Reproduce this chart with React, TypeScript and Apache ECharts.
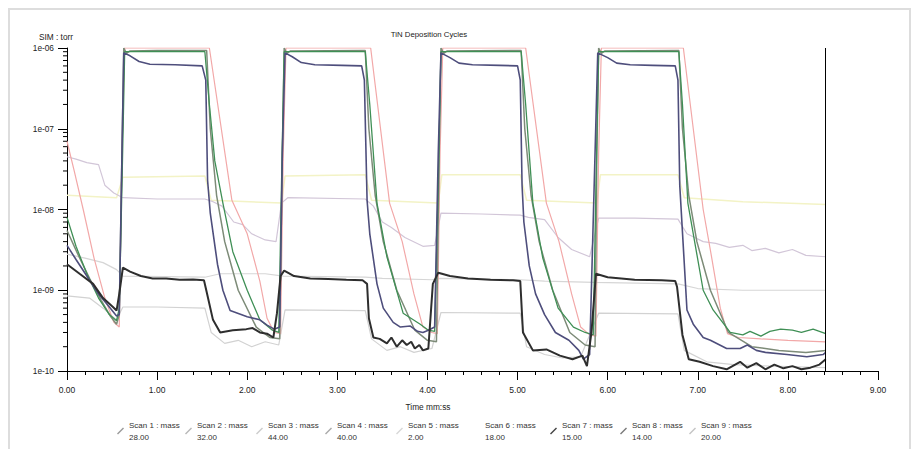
import React, { useEffect, useRef } from "react";
import * as echarts from "echarts";

const FONT = "'Liberation Sans', Arial, sans-serif";

// Legend entries
const scanLabels = ["Scan 1", "Scan 2", "Scan 3", "Scan 4", "Scan 5", "Scan 6", "Scan 7", "Scan 8", "Scan 9"];
const scanMasses = ["28.00", "32.00", "44.00", "40.00", "2.00", "18.00", "15.00", "14.00", "20.00"];

// X axis ticks (minutes)
const xTickMin = 0;
const xTickMax = 9;
const xTickStep = 1;
// Y axis decades
const yMin = 1e-10;
const yMax = 1e-6;
const yMinorTickValues = [
  2e-10, 3e-10, 4e-10, 5e-10, 6e-10, 7e-10, 8e-10, 9e-10,
  2e-9, 3e-9, 4e-9, 5e-9, 6e-9, 7e-9, 8e-9, 9e-9,
  2e-8, 3e-8, 4e-8, 5e-8, 6e-8, 7e-8, 8e-8, 9e-8,
  2e-7, 3e-7, 4e-7, 5e-7, 6e-7, 7e-7, 8e-7, 9e-7,
];
const cursorTime = 8.42;

// Scan 1 : mass 28.00
const scan1: [number, number][] = [
  [0.0, 5.5e-9], [0.12, 2.8e-9], [0.25, 1.4e-9], [0.38, 7.5e-10], [0.48, 4.8e-10], [0.55, 3.8e-10], [0.58, 5e-10],
  [0.61, 5e-8], [0.63, 1.0e-6], [0.66, 8.6e-7], [0.7, 9.2e-7], [1.0, 9.3e-7], [1.55, 9.3e-7],
  [1.59, 1e-7], [1.66, 1.5e-8], [1.75, 4e-9], [1.9, 1e-9], [2.1, 3.5e-10], [2.25, 2.6e-10], [2.36, 2.5e-10],
  [2.39, 5e-8], [2.41, 1.0e-6], [2.44, 8.6e-7], [2.48, 9.2e-7], [3.31, 9.3e-7],
  [3.35, 1e-7], [3.42, 1.5e-8], [3.51, 4e-9], [3.66, 1e-9], [3.86, 3.2e-10], [4.0, 2.4e-10], [4.1, 2.3e-10],
  [4.13, 5e-8], [4.15, 1.0e-6], [4.18, 8.6e-7], [4.22, 9.2e-7], [5.04, 9.3e-7],
  [5.08, 1e-7], [5.15, 1.5e-8], [5.24, 4e-9], [5.39, 1e-9], [5.58, 3e-10], [5.75, 2.1e-10], [5.86, 2e-10],
  [5.88, 5e-8], [5.9, 1.0e-6], [5.93, 8.6e-7], [5.97, 9.2e-7], [6.79, 9.3e-7],
  [6.83, 1e-7], [6.9, 1.5e-8], [6.99, 4e-9], [7.14, 1e-9], [7.34, 3e-10], [7.6, 2e-10], [7.9, 1.8e-10], [8.2, 1.7e-10], [8.42, 1.8e-10],
];

// Scan 2 : mass 32.00
const scan2: [number, number][] = [
  [0.0, 7e-8], [0.08, 3e-8], [0.18, 1e-8], [0.3, 2.5e-9], [0.42, 8e-10], [0.52, 4e-10], [0.58, 3.5e-10],
  [0.61, 5e-8], [0.64, 1.0e-6], [1.58, 1.0e-6],
  [1.83, 1.3e-8], [2.0, 5e-9], [2.14, 1.3e-9], [2.22, 4.5e-10], [2.3, 3.0e-10], [2.37, 2.9e-10],
  [2.4, 5e-8], [2.43, 1.0e-6], [3.37, 1.0e-6],
  [3.58, 1.2e-8], [3.72, 4e-9], [3.85, 9e-10], [3.95, 3.5e-10], [4.05, 3e-10], [4.11, 2.9e-10],
  [4.14, 5e-8], [4.17, 1.0e-6], [5.09, 1.0e-6],
  [5.32, 1.2e-8], [5.46, 4e-9], [5.6, 9e-10], [5.7, 3.5e-10], [5.8, 2.8e-10], [5.87, 2.7e-10],
  [5.9, 5e-8], [5.93, 1.0e-6], [6.84, 1.0e-6],
  [7.06, 1e-8], [7.15, 2.7e-9], [7.25, 6e-10], [7.33, 2.9e-10], [7.45, 2.6e-10], [7.7, 2.5e-10], [8.0, 2.4e-10], [8.42, 2.3e-10],
];

// Scan 3 : mass 44.00
const scan3: [number, number][] = [
  [0.0, 4.5e-8], [0.1, 4.2e-8], [0.22, 3.8e-8], [0.35, 3.6e-8], [0.42, 2e-8], [0.52, 1.6e-8], [0.62, 1.4e-8],
  [1.0, 1.35e-8], [1.53, 1.35e-8], [1.62, 1.25e-8], [1.72, 1.1e-8], [1.85, 7e-9], [1.95, 6.5e-9], [2.05, 5e-9],
  [2.2, 4.2e-9], [2.32, 4e-9], [2.38, 1.2e-8], [2.45, 1.4e-8], [3.31, 1.35e-8], [3.4, 1.1e-8], [3.5, 7e-9],
  [3.6, 6e-9], [3.75, 4.5e-9], [3.95, 3.5e-9], [4.08, 3.6e-9], [4.15, 9e-9], [4.6, 8.8e-9], [5.03, 8.5e-9],
  [5.12, 8e-9], [5.3, 7.5e-9], [5.45, 4.5e-9], [5.6, 3.2e-9], [5.8, 2.6e-9], [5.9, 7.8e-9], [6.3, 7.8e-9],
  [6.78, 7.6e-9], [6.88, 5e-9], [7.06, 4e-9], [7.2, 3.8e-9], [7.35, 3.4e-9], [7.5, 3.6e-9], [7.6, 3.1e-9],
  [7.75, 3.3e-9], [7.9, 2.9e-9], [8.05, 3.2e-9], [8.2, 2.7e-9], [8.42, 2.6e-9],
];

// Scan 4 : mass 40.00
const scan4: [number, number][] = [
  [0.0, 8e-9], [0.1, 3.5e-9], [0.22, 1.6e-9], [0.35, 8e-10], [0.47, 5e-10], [0.55, 4.2e-10], [0.58, 6e-10],
  [0.61, 2e-8], [0.64, 9.0e-7], [1.0, 9.1e-7], [1.53, 9.0e-7],
  [1.58, 2e-7], [1.64, 4e-8], [1.73, 1.2e-8], [1.84, 3e-9], [2.0, 1.0e-9], [2.14, 4.3e-10], [2.28, 3.2e-10], [2.35, 3.0e-10],
  [2.38, 2e-8], [2.41, 9.0e-7], [3.0, 9.1e-7], [3.31, 9.0e-7],
  [3.36, 2e-7], [3.44, 1.2e-8], [3.55, 2.6e-9], [3.73, 5.2e-10], [3.92, 3.8e-10], [4.01, 3.2e-10], [4.08, 3.1e-10],
  [4.12, 2e-8], [4.15, 9.0e-7], [4.6, 9.1e-7], [5.04, 9.0e-7],
  [5.09, 2e-7], [5.17, 1.2e-8], [5.28, 2.5e-9], [5.45, 6e-10], [5.62, 3.5e-10], [5.75, 3.0e-10], [5.84, 2.8e-10],
  [5.87, 2e-8], [5.9, 9.0e-7], [6.3, 9.1e-7], [6.79, 9.0e-7],
  [6.83, 2e-7], [6.89, 1.2e-8], [7.06, 1.0e-9], [7.17, 5.7e-10], [7.36, 3.0e-10], [7.5, 2.8e-10], [7.58, 3.1e-10],
  [7.7, 2.7e-10], [7.8, 3.1e-10], [7.92, 3.3e-10], [8.05, 3.2e-10], [8.15, 3.0e-10], [8.28, 3.3e-10], [8.42, 2.9e-10],
];

// Scan 5 : mass 2.00
const scan5: [number, number][] = [
  [0.0, 8.5e-10], [0.25, 8e-10], [0.4, 6e-10], [0.55, 4.3e-10], [0.62, 6.2e-10], [1.0, 6.2e-10], [1.53, 6.0e-10],
  [1.6, 3e-10], [1.75, 2.2e-10], [1.9, 2.4e-10], [2.05, 2.0e-10], [2.2, 2.3e-10], [2.35, 2.1e-10], [2.42, 5.7e-10],
  [3.31, 5.6e-10], [3.38, 2.5e-10], [3.55, 1.8e-10], [3.7, 2.0e-10], [3.85, 1.7e-10], [4.05, 1.9e-10], [4.15, 5.3e-10],
  [5.03, 5.2e-10], [5.1, 2e-10], [5.3, 1.6e-10], [5.5, 1.45e-10], [5.7, 1.5e-10], [5.9, 5.2e-10], [6.78, 5.1e-10],
  [6.85, 1.8e-10], [7.1, 1.3e-10], [7.4, 1.2e-10], [7.8, 1.15e-10], [8.42, 1.1e-10],
];

// Scan 6 : mass 18.00
const scan6: [number, number][] = [
  [0.0, 1.5e-8], [0.55, 1.4e-8], [0.62, 2.5e-8], [1.53, 2.6e-8], [1.6, 1.3e-8], [2.38, 1.2e-8], [2.42, 2.6e-8],
  [3.31, 2.7e-8], [3.38, 1.3e-8], [4.12, 1.2e-8], [4.16, 2.7e-8], [5.03, 2.7e-8], [5.1, 1.3e-8], [5.88, 1.2e-8],
  [5.92, 2.7e-8], [6.78, 2.7e-8], [6.85, 1.4e-8], [7.5, 1.25e-8], [8.42, 1.15e-8],
];

// Scan 7 : mass 15.00
const scan7: [number, number][] = [
  [0.0, 2.1e-9], [0.14, 1.6e-9], [0.29, 1.2e-9], [0.4, 8.0e-10], [0.51, 6.2e-10], [0.55, 5.6e-10], [0.58, 9e-10],
  [0.62, 1.9e-9], [0.7, 1.7e-9], [0.82, 1.5e-9], [0.95, 1.4e-9], [1.1, 1.4e-9], [1.25, 1.35e-9], [1.4, 1.36e-9],
  [1.52, 1.33e-9], [1.55, 9.5e-10], [1.62, 4.3e-10], [1.7, 3.0e-10], [1.84, 3.2e-10], [1.99, 3.3e-10], [2.06, 3.4e-10],
  [2.14, 3.0e-10], [2.22, 2.9e-10], [2.29, 2.6e-10], [2.33, 5.2e-10], [2.37, 1.5e-9], [2.41, 1.75e-9], [2.52, 1.5e-9],
  [2.7, 1.4e-9], [2.9, 1.38e-9], [3.1, 1.35e-9], [3.28, 1.33e-9], [3.33, 1.2e-9], [3.35, 4.5e-10], [3.4, 2.6e-10],
  [3.47, 2.5e-10], [3.55, 2.2e-10], [3.6, 2.6e-10], [3.66, 2.0e-10], [3.72, 2.4e-10], [3.77, 2.1e-10], [3.82, 2.3e-10],
  [3.86, 1.9e-10], [3.91, 2.1e-10], [3.95, 1.8e-10], [4.01, 1.9e-10], [4.06, 1.2e-9], [4.12, 1.65e-9], [4.25, 1.5e-9],
  [4.45, 1.4e-9], [4.7, 1.35e-9], [4.95, 1.33e-9], [5.03, 1.3e-9], [5.06, 3.0e-10], [5.17, 1.8e-10], [5.32, 1.85e-10],
  [5.47, 1.55e-10], [5.61, 1.4e-10], [5.72, 1.55e-10], [5.77, 1.15e-10], [5.82, 3e-10], [5.87, 1.6e-9], [6.0, 1.45e-9],
  [6.3, 1.35e-9], [6.6, 1.33e-9], [6.75, 1.3e-9], [6.77, 1.1e-9], [6.83, 2.8e-10], [6.9, 1.4e-10], [7.02, 1.3e-10],
  [7.17, 1.15e-10], [7.32, 1.05e-10], [7.47, 1.3e-10], [7.55, 1.1e-10], [7.65, 1.25e-10], [7.75, 1.05e-10],
  [7.85, 1.2e-10], [7.95, 1.08e-10], [8.05, 1.15e-10], [8.15, 1.05e-10], [8.25, 1.1e-10], [8.35, 1.2e-10], [8.42, 1.4e-10],
];

// Scan 8 : mass 14.00
const scan8: [number, number][] = [
  [0.0, 3.6e-9], [0.1, 2.4e-9], [0.22, 1.5e-9], [0.35, 9e-10], [0.47, 6.2e-10], [0.55, 4.8e-10], [0.58, 5e-10],
  [0.61, 5e-8], [0.63, 8.7e-7], [0.7, 8.0e-7], [0.8, 6.8e-7], [0.92, 6.3e-7], [1.2, 6.2e-7], [1.5, 6.0e-7],
  [1.54, 4e-7], [1.56, 2.3e-8], [1.59, 9e-9], [1.67, 2.1e-9], [1.73, 1.0e-9], [1.81, 5.6e-10], [2.0, 4.7e-10],
  [2.14, 4.3e-10], [2.22, 3.7e-10], [2.3, 3.3e-10], [2.36, 3.5e-10], [2.39, 5e-8], [2.42, 8.7e-7], [2.5, 7.8e-7],
  [2.6, 6.6e-7], [2.75, 6.2e-7], [3.05, 6.1e-7], [3.27, 6.0e-7], [3.3, 4e-7], [3.33, 1.3e-8], [3.36, 5e-9],
  [3.44, 1.2e-9], [3.51, 6e-10], [3.62, 4e-10], [3.7, 3.5e-10], [3.81, 3.6e-10], [3.89, 3.1e-10], [3.95, 3.0e-10],
  [4.01, 3.2e-10], [4.08, 3.5e-10], [4.12, 5e-8], [4.15, 8.7e-7], [4.25, 7.6e-7], [4.35, 6.5e-7], [4.5, 6.2e-7],
  [4.8, 6.1e-7], [5.0, 6.0e-7], [5.03, 4e-7], [5.05, 2e-8], [5.07, 7e-9], [5.13, 2e-9], [5.2, 9e-10], [5.3, 5e-10],
  [5.42, 3e-10], [5.57, 2.4e-10], [5.68, 1.8e-10], [5.73, 1.4e-10], [5.8, 1.6e-10], [5.86, 5e-8], [5.89, 8.7e-7],
  [6.0, 7.6e-7], [6.1, 6.5e-7], [6.25, 6.2e-7], [6.5, 6.1e-7], [6.75, 6.0e-7], [6.78, 4e-7], [6.8, 2e-8],
  [6.88, 5.7e-10], [6.95, 3.8e-10], [7.06, 2.6e-10], [7.14, 2.4e-10], [7.32, 1.9e-10], [7.47, 1.9e-10],
  [7.55, 2.1e-10], [7.65, 1.8e-10], [7.75, 1.7e-10], [7.99, 1.6e-10], [8.21, 1.5e-10], [8.39, 1.6e-10], [8.42, 1.7e-10],
];

// Scan 9 : mass 20.00
const scan9: [number, number][] = [
  [0.0, 2.8e-9], [0.2, 2.5e-9], [0.4, 2.2e-9], [0.55, 1.8e-9], [0.62, 1.5e-9], [1.53, 1.45e-9], [1.7, 1.6e-9],
  [2.2, 1.6e-9], [2.4, 1.5e-9], [3.31, 1.45e-9], [3.5, 1.4e-9], [4.05, 1.35e-9], [4.14, 1.4e-9], [5.03, 1.35e-9],
  [5.3, 1.3e-9], [5.85, 1.25e-9], [6.78, 1.2e-9], [7.0, 1.05e-9], [7.5, 1.0e-9], [8.42, 1.0e-9],
];

const seriesData = [scan1, scan2, scan3, scan4, scan5, scan6, scan7, scan8, scan9];
const lineColors = ["#7d8b78", "#f2a8a8", "#d2c6d8", "#3f8f55", "#d2d2d2", "#f3f3c6", "#2e2e2e", "#4e4e7c", "#d6d6d6"];
const lineWidths = [1.5, 1.2, 1.2, 1.3, 1.2, 1.5, 2, 1.6, 1.2];
const iconColors = ["#9a9a9a", "#b8b8b8", "#cccccc", "#aaaaaa", "#d8d8d8", "#ffffff", "#444444", "#7a7a7a", "#c4c4c4"];
const legendTextX = [129, 197, 268, 337, 408, 485, 562, 632, 701];
const drawOrder = [5, 2, 4, 8, 1, 0, 3, 7, 6];

export default function App() {
  const ref = useRef<HTMLDivElement>(null);
  useEffect(() => {
    if (!ref.current) return;
    const chart = echarts.init(ref.current, undefined, { renderer: "svg" });
    const names = scanLabels.map((s, i) => `${s} : mass\n${scanMasses[i]}`);
    const icon = "path://M0,7 L6,1 L7,2 L1,8 Z";

    const series: any[] = drawOrder.map((i) => ({
      name: names[i],
      type: "line",
      data: seriesData[i],
      showSymbol: false,
      symbol: "none",
      lineStyle: { color: lineColors[i], width: lineWidths[i] },
      itemStyle: { color: lineColors[i] },
      z: 2,
      ...(i === 6
        ? {
            markLine: {
              silent: true,
              symbol: "none",
              label: { show: false },
              lineStyle: { color: "#000", width: 1, type: "solid" },
              data: [{ xAxis: cursorTime }],
            },
          }
        : {}),
    }));

    const legends = names.map((n, i) => ({
      data: [{ name: n, icon, itemStyle: { color: iconColors[i] } }],
      left: legendTextX[i] - 12,
      top: 419,
      padding: 0,
      itemWidth: 7,
      itemHeight: 7,
      itemGap: 0,
      selectedMode: false,
      textStyle: { fontFamily: FONT, fontSize: 8, lineHeight: 12, color: "#333" },
    }));

    const staticGraphics: any[] = [
      {
        id: "frame",
        type: "rect",
        shape: { x: 9, y: 9, width: 901, height: 470 },
        style: { fill: "none", stroke: "#dddddd", lineWidth: 2 },
        silent: true,
      },
      {
        id: "yname",
        type: "text",
        x: 56,
        y: 37,
        style: {
          text: "SIM : torr",
          fontFamily: FONT,
          fontSize: 8.3,
          fill: "#222",
          textAlign: "center",
          textVerticalAlign: "middle",
        },
      },
      {
        id: "xname",
        type: "text",
        x: 428,
        y: 407,
        style: {
          text: "Time mm:ss",
          fontFamily: FONT,
          fontSize: 8.3,
          fill: "#222",
          textAlign: "center",
          textVerticalAlign: "middle",
        },
      },
    ];

    chart.setOption({
      animation: false,
      backgroundColor: "#fff",
      textStyle: { fontFamily: FONT },
      title: {
        text: "TiN Deposition Cycles",
        left: 424,
        top: 25,
        textAlign: "center",
        textStyle: { fontFamily: FONT, fontSize: 7.8, fontWeight: "normal", color: "#222" },
      },
      legend: legends,
      grid: { left: 67, right: 36, top: 48, bottom: 78, containLabel: false },
      xAxis: {
        type: "value",
        min: xTickMin,
        max: xTickMax,
        interval: xTickStep,
        axisLine: { show: true, lineStyle: { color: "#000", width: 1 } },
        axisTick: { show: true, length: 9, lineStyle: { color: "#000" } },
        minorTick: { show: true, splitNumber: 5, length: 4, lineStyle: { color: "#000" } },
        splitLine: { show: false },
        axisLabel: {
          margin: 14,
          fontFamily: FONT,
          fontSize: 8.5,
          color: "#222",
          formatter: (v: number) => v.toFixed(2),
        },
      },
      yAxis: {
        type: "log",
        logBase: 10,
        min: yMin,
        max: yMax,
        axisLine: { show: true, onZero: false, lineStyle: { color: "#000", width: 1 } },
        axisTick: { show: true, length: 9, lineStyle: { color: "#000" } },
        splitLine: { show: false },
        axisLabel: {
          margin: 13,
          fontFamily: FONT,
          fontSize: 8.3,
          color: "#222",
          formatter: (v: number) => {
            const e = Math.round(Math.log10(v));
            return "1e-" + String(-e).padStart(2, "0");
          },
        },
      },
      graphic: staticGraphics,
      series,
    });

    // minor ticks of the log axis at 2..9 x 10^n, placed through the axis scale
    const axisX = chart.convertToPixel({ xAxisIndex: 0 }, xTickMin) as number;
    const tickGraphics = yMinorTickValues.map((v, k) => {
      const py = chart.convertToPixel({ yAxisIndex: 0 }, v) as number;
      return {
        id: "ytick" + k,
        type: "line",
        shape: { x1: axisX - 4, y1: py, x2: axisX, y2: py },
        style: { stroke: "#000", lineWidth: 1 },
        silent: true,
        z: 10,
      };
    });
    chart.setOption({ graphic: [...staticGraphics, ...tickGraphics] });

    return () => chart.dispose();
  }, []);
  return (
    <div
      ref={ref}
      style={{ position: "fixed", left: 0, top: 0, width: 914, height: 449 }}
    />
  );
}
